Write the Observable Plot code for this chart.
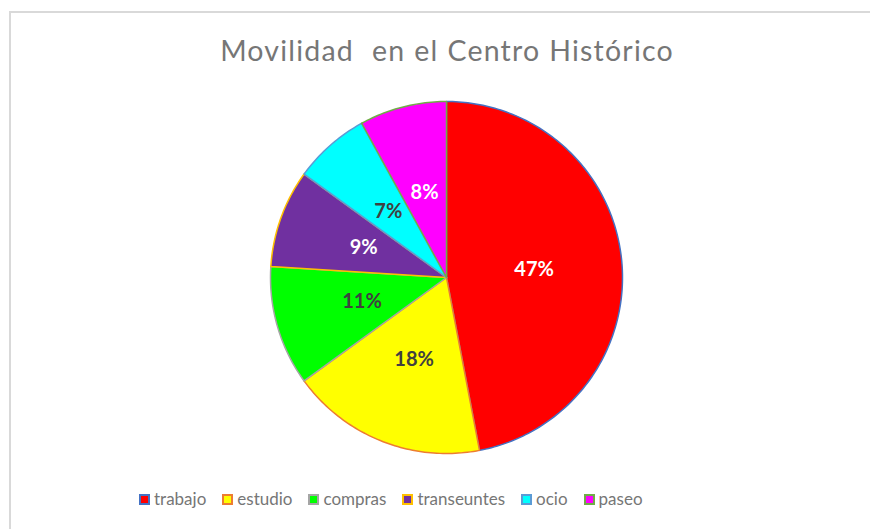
<!DOCTYPE html>
<html>
<head>
<meta charset="utf-8">
<script src="https://cdn.jsdelivr.net/npm/d3@7"></script>
<script src="https://cdn.jsdelivr.net/npm/@observablehq/plot@0.6"></script>
<style>
  html, body { margin: 0; padding: 0; background: #fff; }
  #wrap { position: relative; width: 870px; height: 529px; overflow: hidden; background: #fff; font-family: Lato, "Open Sans", sans-serif; }
  #frame { position: absolute; left: 9px; top: 11px; width: 900px; height: 600px; border: 2px solid #d9d9d9; box-sizing: border-box; }
  #title { position: absolute; left: 0; width: 894px; top: 33px; text-align: center; font-size: 28.5px; line-height: 34px; color: #767676; letter-spacing: 1.2px; word-spacing: 0.5px; white-space: pre; }
  #chart { position: absolute; left: 0; top: 0; }
  #legend { position: absolute; left: 139px; top: 489px; display: flex; align-items: center; font-size: 17px; line-height: 20px; color: #767676; }
  .item { display: flex; align-items: center; margin-right: 16px; }
  .sw { width: 11px; height: 11px; box-sizing: border-box; border: 2px solid; margin-right: 4px; }
</style>
</head>
<body>
<div id="wrap">
  <div id="frame"></div>
  <div id="chart"></div>
  <div id="title"></div>
  <div id="legend"></div>
</div>
<script>
// ---- data ----
const title = "Movilidad  en el Centro Histórico";
const categories = ["trabajo", "estudio", "compras", "transeuntes", "ocio", "paseo"];
const values = [47, 18, 11, 9, 7, 8];

// ---- styles ----
const fillColors = ["#ff0000", "#ffff00", "#00ff00", "#7030a0", "#00ffff", "#ff00ff"];
const strokeColors = ["#4472c4", "#ed7d31", "#a5a5a5", "#ffc000", "#5b9bd5", "#70ad47"];
const darkText = "#404040";

// ---- geometry from data (unit circle, angle clockwise from 12 o'clock) ----
const total = d3.sum(values);
let acc = 0;
const slices = categories.map((c, i) => {
  const a0 = acc / total * 2 * Math.PI;
  acc += values[i];
  const a1 = acc / total * 2 * Math.PI;
  return { key: c, value: values[i], a0, a1, mid: (a0 + a1) / 2,
           fill: fillColors[i], stroke: strokeColors[i],
           label: d3.lab(fillColors[i]).l > 75 ? darkText : "#ffffff" };
});

function slicePoints(s) {
  const pts = [{ x: 0, y: 0 }];
  const n = Math.max(2, Math.ceil((s.a1 - s.a0) / (Math.PI / 180)));
  for (let k = 0; k <= n; k++) {
    const a = s.a0 + (s.a1 - s.a0) * k / n;
    pts.push({ x: Math.sin(a), y: Math.cos(a) });
  }
  return pts;
}

const marks = slices.map(s =>
  Plot.line(slicePoints(s), { x: "x", y: "y", fill: s.fill, stroke: s.stroke, strokeWidth: 1.5, curve: "linear-closed", strokeLinejoin: "round" })
);
marks.push(
  Plot.text(slices, {
    x: d => 0.5 * Math.sin(d.mid),
    y: d => 0.5 * Math.cos(d.mid),
    text: d => d.value + "%",
    fill: d => d.label,
    fontSize: 20, fontWeight: "bold", fontFamily: "Lato, 'Open Sans', sans-serif"
  })
);

const chart = Plot.plot({
  width: 870, height: 529,
  marginLeft: 270, marginRight: 248, marginTop: 101, marginBottom: 76,
  x: { domain: [-1, 1], axis: null },
  y: { domain: [-1, 1], axis: null },
  color: { type: "identity" },
  style: { background: "transparent", overflow: "visible" },
  marks
});
document.getElementById("chart").appendChild(chart);

document.getElementById("title").textContent = title;

const legend = document.getElementById("legend");
slices.forEach(s => {
  const it = document.createElement("div");
  it.className = "item";
  const sw = document.createElement("div");
  sw.className = "sw";
  sw.style.background = s.fill;
  sw.style.borderColor = s.stroke;
  const t = document.createElement("span");
  t.textContent = s.key;
  it.appendChild(sw); it.appendChild(t);
  legend.appendChild(it);
});
</script>
</body>
</html>
